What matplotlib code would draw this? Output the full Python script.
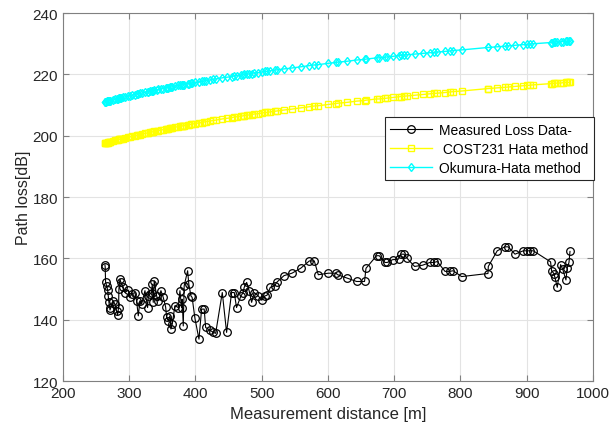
import matplotlib
matplotlib.use('Agg')
import matplotlib.pyplot as plt
import numpy as np

# measurement distances [m]
dist = [263.4, 263.8, 264.4, 266.0, 267.5, 268.4, 269.4, 270.5, 271.0, 276.0,
        278.5, 281.0, 282.5, 284.0, 284.5, 286.0, 287.5, 291.0, 293.6, 298.6,
        301.0, 303.6, 308.7, 311.2, 313.7, 316.2, 318.7, 323.8, 327.8, 328.8,
        331.3, 333.8, 334.8, 336.3, 337.8, 341.4, 343.8, 347.9, 351.4, 355.0,
        356.5, 359.0, 361.5, 363.0, 365.0, 369.0, 374.0, 376.6, 379.0, 380.0,
        381.6, 383.0, 388.2, 390.0, 393.2, 395.0, 399.2, 405.3, 409.3, 413.2,
        415.4, 422.0, 427.0, 430.5, 440.5, 447.0, 454.6, 458.6, 462.0, 468.7,
        472.0, 473.6, 477.3, 481.0, 484.8, 488.7, 494.8, 500.0, 505.0, 508.0,
        513.0, 519.7, 522.5, 533.6, 545.7, 558.8, 571.9, 579.4, 585.4, 600.5,
        612.0, 614.6, 629.0, 643.2, 655.2, 657.4, 673.4, 677.4, 686.0, 689.5,
        697.5, 706.5, 709.6, 714.6, 719.7, 730.7, 742.8, 753.8, 760.0, 765.0,
        776.6, 784.0, 789.0, 801.7, 841.5, 842.0, 855.5, 867.0, 872.0, 882.3,
        894.8, 899.8, 904.8, 909.9, 936.0, 937.5, 941.0, 942.6, 946.1, 951.2,
        954.3, 959.2, 961.2, 963.8, 965.3]

measured = [157.9, 157.1, 152.2, 151.1, 149.7, 147.8, 145.7, 144.0, 143.2, 146.2,
            145.1, 142.9, 141.6, 144.0, 150.2, 153.3, 152.2, 150.6, 148.9, 149.7,
            147.3, 148.4, 148.9, 146.2, 141.3, 146.2, 145.1, 149.5, 144.0, 147.8,
            148.4, 148.9, 151.6, 145.7, 152.7, 147.8, 146.2, 149.5, 147.3, 144.2,
            140.8, 139.7, 141.3, 137.0, 138.6, 144.6, 144.0, 149.5, 144.0, 146.7,
            138.0, 151.1, 156.0, 151.6, 147.8, 147.3, 140.5, 133.7, 143.5, 143.5,
            137.5, 136.6, 135.9, 135.6, 148.9, 135.9, 148.9, 148.9, 144.0, 147.8,
            148.9, 150.6, 152.2, 149.5, 145.7, 148.9, 147.8, 146.4, 147.8, 148.0,
            150.6, 151.1, 152.2, 154.4, 155.2, 156.8, 159.2, 159.2, 154.7, 155.2,
            155.2, 154.7, 153.6, 152.5, 152.5, 156.8, 160.9, 160.9, 158.7, 158.7,
            159.6, 159.8, 161.4, 161.4, 160.0, 157.4, 157.8, 158.7, 158.7, 159.0,
            155.8, 155.8, 156.0, 154.1, 155.1, 157.4, 162.5, 163.8, 163.8, 161.4,
            162.5, 162.5, 162.5, 162.5, 158.9, 156.0, 155.1, 153.8, 150.6, 158.0,
            156.5, 153.0, 157.0, 158.7, 162.3]

cost231 = [197.6, 197.6, 197.7, 197.8, 197.8, 197.9, 197.9, 198.0, 198.0, 198.3,
           198.5, 198.6, 198.7, 198.8, 198.8, 198.9, 198.9, 199.1, 199.3, 199.5,
           199.6, 199.8, 200.0, 200.2, 200.3, 200.4, 200.5, 200.8, 200.9, 201.0,
           201.1, 201.2, 201.3, 201.3, 201.4, 201.6, 201.7, 201.9, 202.0, 202.2,
           202.2, 202.3, 202.4, 202.5, 202.6, 202.8, 203.0, 203.1, 203.2, 203.2,
           203.3, 203.3, 203.5, 203.6, 203.7, 203.8, 204.0, 204.2, 204.3, 204.5,
           204.6, 204.8, 205.0, 205.1, 205.5, 205.7, 205.9, 206.1, 206.2, 206.4,
           206.5, 206.6, 206.7, 206.8, 206.9, 207.1, 207.2, 207.4, 207.6, 207.6,
           207.8, 208.0, 208.1, 208.4, 208.7, 209.1, 209.5, 209.7, 209.8, 210.2,
           210.5, 210.6, 210.9, 211.3, 211.5, 211.6, 212.0, 212.0, 212.2, 212.3,
           212.5, 212.7, 212.8, 212.9, 213.0, 213.2, 213.5, 213.7, 213.8, 213.9,
           214.1, 214.3, 214.4, 214.6, 215.4, 215.4, 215.6, 215.8, 215.9, 216.1,
           216.3, 216.4, 216.5, 216.6, 217.0, 217.0, 217.1, 217.1, 217.2, 217.2,
           217.3, 217.4, 217.4, 217.4, 217.5]

okumura = [211.0, 211.0, 211.1, 211.2, 211.2, 211.3, 211.3, 211.4, 211.4, 211.7,
           211.9, 212.0, 212.1, 212.2, 212.2, 212.3, 212.3, 212.5, 212.7, 212.9,
           213.0, 213.2, 213.4, 213.6, 213.7, 213.8, 213.9, 214.2, 214.3, 214.4,
           214.5, 214.6, 214.7, 214.7, 214.8, 215.0, 215.1, 215.3, 215.4, 215.6,
           215.6, 215.7, 215.8, 215.9, 216.0, 216.2, 216.4, 216.5, 216.6, 216.6,
           216.7, 216.7, 216.9, 217.0, 217.1, 217.2, 217.4, 217.6, 217.7, 217.9,
           218.0, 218.2, 218.4, 218.5, 218.9, 219.1, 219.3, 219.5, 219.6, 219.8,
           219.9, 220.0, 220.1, 220.2, 220.3, 220.5, 220.6, 220.8, 221.0, 221.0,
           221.2, 221.4, 221.5, 221.8, 222.1, 222.5, 222.9, 223.1, 223.2, 223.6,
           223.9, 224.0, 224.3, 224.7, 224.9, 225.0, 225.4, 225.4, 225.6, 225.7,
           225.9, 226.1, 226.2, 226.3, 226.4, 226.6, 226.9, 227.1, 227.2, 227.3,
           227.5, 227.7, 227.8, 228.0, 228.8, 228.8, 229.0, 229.2, 229.3, 229.5,
           229.7, 229.8, 229.9, 230.0, 230.4, 230.4, 230.5, 230.5, 230.6, 230.6,
           230.7, 230.8, 230.8, 230.8, 230.9]

xticks = [200, 300, 400, 500, 600, 700, 800, 900, 1000]
yticks = [120, 140, 160, 180, 200, 220, 240]

plt.rcParams['font.family'] = ['Liberation Sans', 'DejaVu Sans']

fig = plt.figure(figsize=(6.11, 4.27), dpi=100)
ax = fig.add_axes([0.103, 0.105, 0.8675, 0.862])

ax.plot(dist, measured, '-o', color='black', lw=0.8, ms=5.5,
        mfc='none', mew=0.9, label='Measured Loss Data-')
ax.plot(dist, cost231, '-s', color='yellow', lw=1.0, ms=4.5,
        mfc='none', mew=1.0, label=' COST231 Hata method')
ax.plot(dist, okumura, '-d', color='cyan', lw=1.0, ms=4.5,
        mfc='none', mew=1.0, label='Okumura-Hata method')

ax.set_xlim(200, 1000)
ax.set_ylim(120, 240)
ax.set_xticks(xticks)
ax.set_yticks(yticks)
ax.grid(True, color='#e3e3e3', lw=0.8)
ax.set_axisbelow(True)
ax.tick_params(direction='in', top=True, right=True, length=4,
               labelsize=11, color='#808080', labelcolor='#262626')
for s in ax.spines.values():
    s.set_color('#808080')
    s.set_linewidth(0.8)

ax.set_xlabel('Measurement distance [m]', fontsize=12, color='#262626')
ax.set_ylabel('Path loss[dB]', fontsize=11.5, color='#262626', labelpad=1)

leg = ax.legend(loc='upper left', bbox_to_anchor=(0.6075, 0.717),
                fontsize=10, fancybox=False, framealpha=1,
                edgecolor='#262626', borderaxespad=0, handlelength=3.0,
                borderpad=0.4, labelspacing=0.35, handletextpad=0.5)
leg.get_frame().set_linewidth(0.8)

fig.savefig('out.png', dpi=100)
